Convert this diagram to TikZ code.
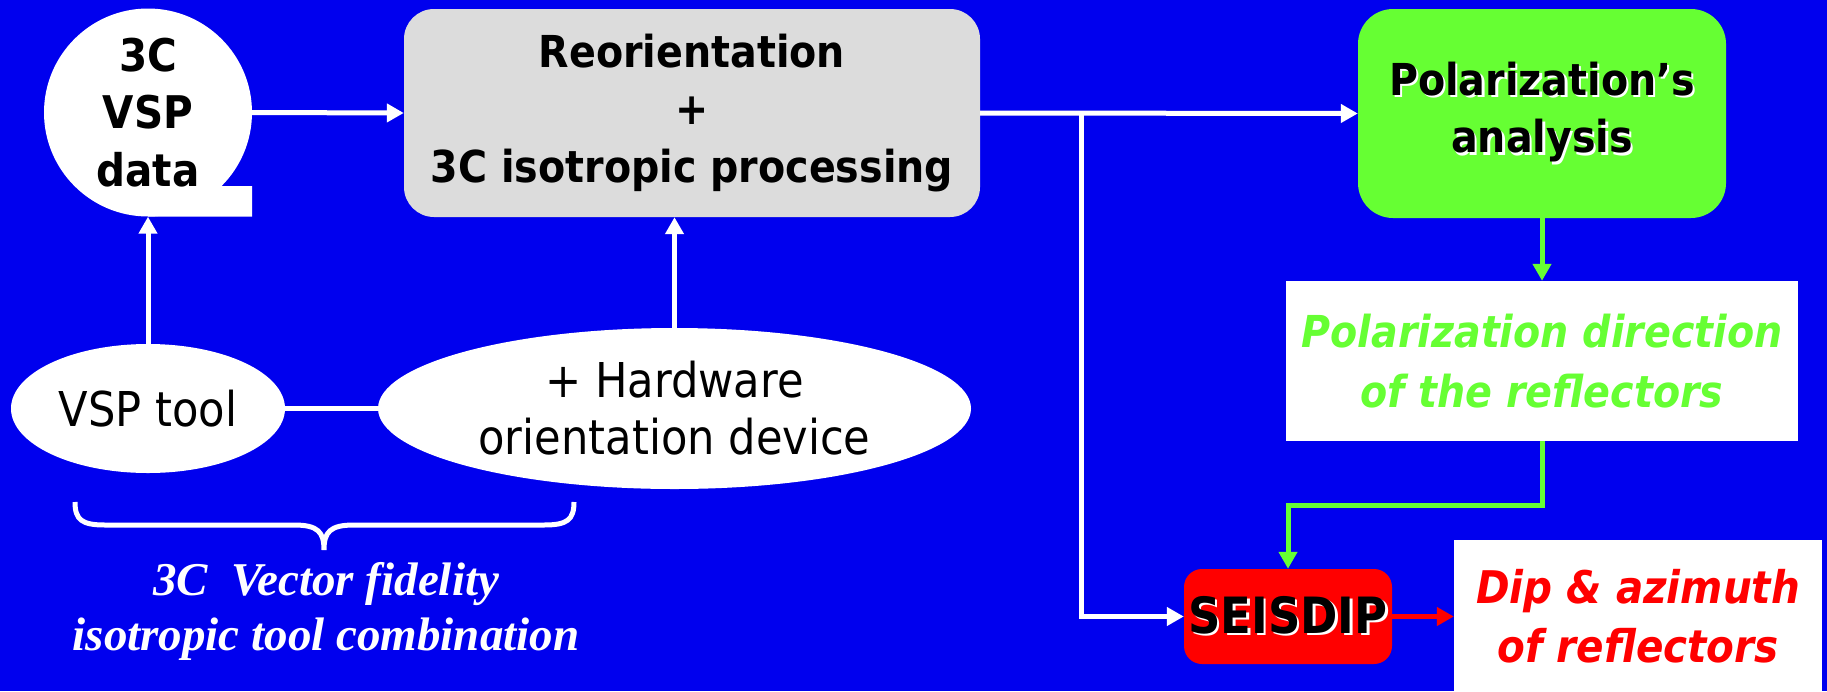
\documentclass[tikz,border=0pt]{standalone}
\usepackage{fontspec}
\setmainfont{DejaVu Sans}[FakeStretch=0.9]
\newfontfamily\serifit{Liberation Serif}
\usetikzlibrary{arrows.meta, shapes.geometric}

\definecolor{bgblue}{RGB}{0,0,238}
\definecolor{boxgray}{RGB}{220,220,220}
\definecolor{polgreen}{RGB}{102,255,51}
\definecolor{dipred}{RGB}{255,0,0}

% white halo behind black text
\newcommand{\shadowed}[1]{\makebox[0pt][l]{\hspace{2.5pt}\raisebox{-2.5pt}{\color{white}#1}}#1}

\begin{document}
\begin{tikzpicture}[x=1pt, y=-1pt,
    flow/.style={draw=white, line width=5pt, -{Triangle[width=18pt, length=17pt]}},
    gflow/.style={flow, draw=polgreen, -{Triangle[width=18pt, length=17pt, fill=polgreen]}},
    rflow/.style={flow, draw=dipred, -{Triangle[width=18pt, length=17pt, fill=dipred]}},
    bigbold/.style={font=\bfseries\fontsize{44}{57.5}\selectfont, align=center},
    plain/.style={font=\fontsize{48}{57}\selectfont, align=center},
    graybox/.style={rectangle, rounded corners=30pt, fill=boxgray, inner sep=0pt, bigbold},
    tooloval/.style={ellipse, fill=white, inner sep=0pt, plain}]

    % Background and page size
    \fill[bgblue] (0,0) rectangle (1827,691);
    \useasboundingbox (0,0) rectangle (1827,691);

    % Define the data and the processing boxes
    \fill[white] (148,112.5) -- (222,186) -- (252,186) -- (252,216.5) -- (148,216.5) -- cycle;
    \node[circle, fill=white, minimum size=208pt, inner sep=0pt, bigbold,
        font=\bfseries\fontsize{45}{57.5}\selectfont] (data) at (148,112.5) {3C\\VSP\\data};
    \node[graybox, minimum width=576pt, minimum height=208pt] (reo) at (692,113)
        {Reorientation\\+\\3C isotropic processing};
    \node[graybox, rounded corners=35pt, fill=polgreen, minimum width=368pt, minimum height=209pt] (polar) at (1542,113.5)
        {\shadowed{Polarization’s}\\\shadowed{analysis}};
    \node[rectangle, fill=white, minimum width=512pt, minimum height=160pt, inner sep=0pt,
        text=polgreen, font=\bfseries\itshape\fontsize{44}{60}\selectfont, align=center] (pdir) at (1542,361)
        {Polarization direction\\of the reflectors};
    \node[graybox, rounded corners=18pt, fill=dipred, minimum width=208pt, minimum height=95pt,
        font=\bfseries\fontsize{50}{60}\selectfont] (seis) at (1288,616.5) {\shadowed{SEISDIP}};
    \node[rectangle, fill=white, minimum width=368pt, minimum height=154pt, inner sep=0pt,
        text=dipred, font=\bfseries\itshape\fontsize{45}{59}\selectfont, align=center] (dip) at (1638,616.5)
        {Dip \& azimuth\\of reflectors};

    % Define the tools
    \node[tooloval, minimum width=274pt, minimum height=129pt] (vsp) at (148,408.5) {VSP tool};
    \node[tooloval, minimum width=593pt, minimum height=161pt] (hw) at (674.5,408.5)
        {+ Hardware\\orientation device};

    % Draw the connectors
    \draw[flow] (data.east) -- (reo.west);
    \draw[flow] (vsp.north) -- (data.south);
    \draw[flow] (hw.north) -- (hw.north |- reo.south);
    \draw[white, line width=5pt] (vsp.east) -- (hw.west);
    \draw[flow] (reo.east) -- (polar.west);
    \coordinate (split) at (1081,113);
    \draw[flow] (split) |- (seis.west);
    \draw[gflow] (polar.south) -- (pdir.north);
    \draw[gflow] (pdir.south) -- ++(0,64) -| (seis.north);
    \draw[rflow] (seis.east) -- (dip.west);

    % Brace and caption under the tools
    \draw[white, line width=5pt] (75,502) .. controls (75,520) and (82,525) .. (105,525) -- (294,525)
        .. controls (318,525) and (324,532) .. (324,550) .. controls (324,532) and (330,525) .. (354,525)
        -- (544,525) .. controls (567,525) and (574,520) .. (574,502);
    \node[text=white, font=\serifit\bfseries\itshape\fontsize{47}{55}\selectfont, align=center] (caption) at (326,611)
        {3C\ \ Vector fidelity\\isotropic tool combination};
\end{tikzpicture}
\end{document}
